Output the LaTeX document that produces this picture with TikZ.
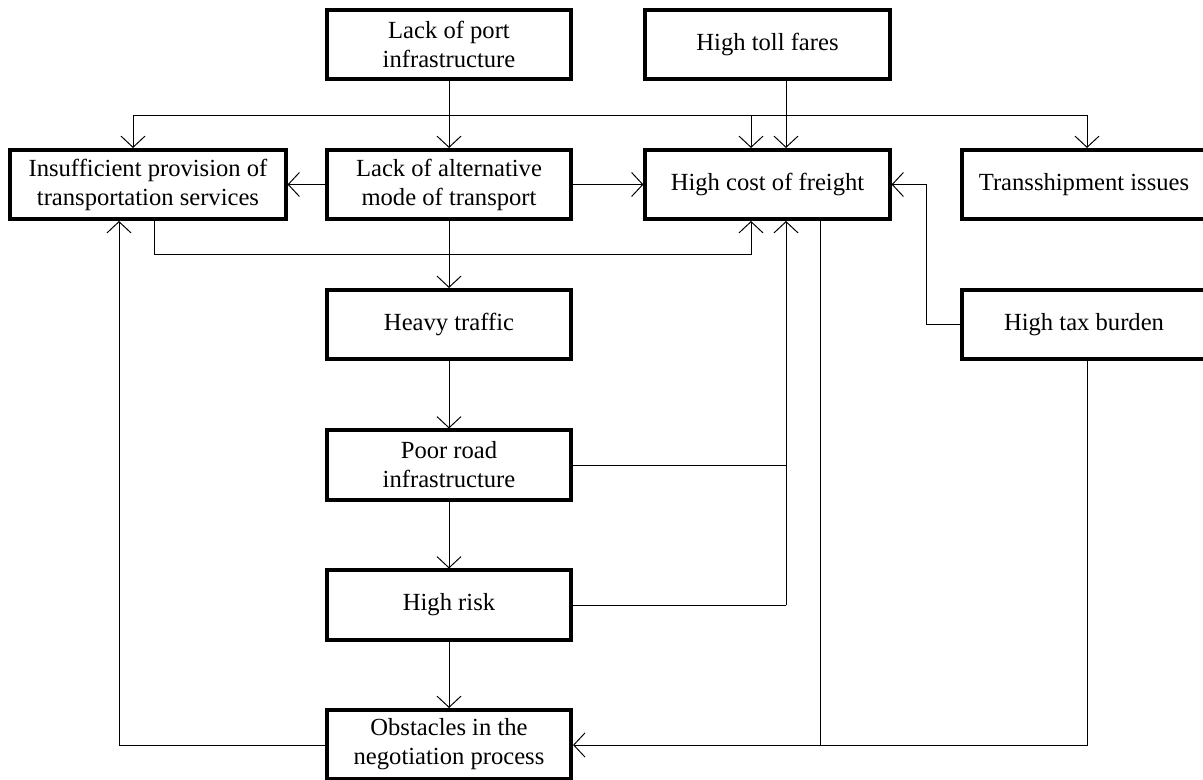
\documentclass[tikz,border=0pt]{standalone}
\usepackage{fontspec}
\setmainfont{Liberation Serif}
\usetikzlibrary{arrows.meta}

\begin{document}
\begin{tikzpicture}[x=0.025cm, y=-0.025cm]

                \tikzstyle{box}  = [draw, line width=0.1cm, rectangle, align=center, minimum width=6.1cm, minimum height=1.725cm, inner sep=0pt, font=\fontsize{17.5}{20.6}\selectfont]
                \tikzstyle{arr}  = [-{Straight Barb[length=0.28cm, width=0.6cm]}, line width=0.7pt]
                \tikzstyle{ln}   = [line width=0.7pt]
                \useasboundingbox (0,0) rectangle (1203,780);
                \clip (0,0) rectangle (1203,780);
                \node [box](port) at (449, 44.5) {Lack of port\\infrastructure};
                \node [box](toll) at (767.5, 44.5) {High toll fares};
                \node [box, minimum width=6.875cm](ins) at (148, 184.5) {Insufficient provision of\\transportation services};
                \node [box](alt) at (449, 184.5) {Lack of alternative\\mode of transport};
                \node [box](fre) at (767.5, 184.5) {High cost of freight};
                \node [box](tra) at (1084, 184.5) {Transshipment issues};
                \node [box](heavy) at (449, 324.5) {Heavy traffic};
                \node [box](tax) at (1084, 324.5) {High tax burden};
                \node [box](poor) at (449, 465) {Poor road\\infrastructure};
                \node [box](risk) at (449, 605) {High risk};
                \node [box](obst) at (449, 744.5) {Obstacles in the\\negotiation process};
                \coordinate (bus) at (449, 115);
                \coordinate (low) at (751, 254);
                \coordinate (side) at (786, 605);
                \coordinate (foot) at (820, 745);
                \coordinate (turn) at (926, 324.5);
                \draw [arr] (port) -- (alt);
                \draw [ln] (133, 115) -- (1087, 115);
                \draw [arr] (133, 115) -- (133,0 |- ins.north);
                \draw [arr] (751, 115) -- (751,0 |- fre.north);
                \draw [arr] (1087, 115) -- (1087,0 |- tra.north);
                \draw [arr] (786,0 |- toll.south) -- (786,0 |- fre.north);
                \draw [arr] (alt) -- (ins);
                \draw [arr] (alt) -- (fre);
                \draw [arr] (154,0 |- ins.south) |- (low) -- (751,0 |- fre.south);
                \draw [arr] (alt) -- (heavy);
                \draw [arr] (heavy) -- (poor);
                \draw [arr] (poor) -- (risk);
                \draw [arr] (risk) -- (obst);
                \draw [ln] (risk) -- (side);
                \draw [arr] (poor) -| (786,0 |- fre.south);
                \draw [ln] (side) -- (786, 465);
                \draw [arr] (820,0 |- fre.south) -- (foot) -- (obst.east |- foot);
                \draw [ln] (1087,0 |- tax.south) |- (foot);
                \draw [arr] (tax.west) -- (turn) |- (fre.east);
                \draw [arr] (obst.west |- foot) -| (119,0 |- ins.south);
\end{tikzpicture}
\end{document}
